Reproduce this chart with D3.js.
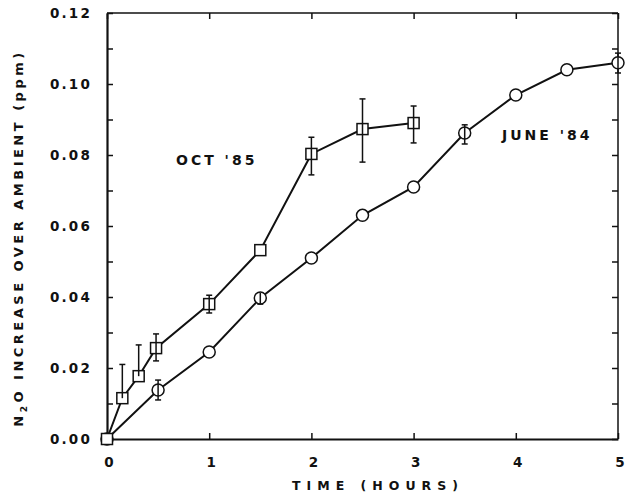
<!DOCTYPE html>
<html lang="en">
<head>
<meta charset="UTF-8">
<title>N2O increase over ambient</title>
<style>
    body { margin: 0; background: #fff; }
    svg { display: block; }
    .lbl { font-family: "DejaVu Sans", sans-serif; font-weight: bold; fill: #111; }
    .frame { fill: none; stroke: #111; }
    .series { fill: none; stroke: #111; stroke-width: 2; }
    .err { stroke: #111; stroke-width: 1.5; }
    .mark { fill: #fff; stroke: #111; stroke-width: 1.5; }
</style>
</head>
<body>
<svg id="chart" width="631" height="500"></svg>
<script src="https://d3js.org/d3.v7.min.js"></script>
<script>
    // Oct '85 (squares)
    const octHours = [0, 0.15, 0.31, 0.48, 1, 1.5, 2, 2.5, 3];
    const octN2O   = [0, 0.0115, 0.0177, 0.0256, 0.038, 0.0532, 0.0803, 0.0873, 0.089];
    const octHi    = [null, 0.021, 0.0265, 0.0296, 0.0405, null, 0.085, 0.0958, 0.0938];
    const octLo    = [null, null, null, 0.022, 0.0355, null, 0.0744, 0.078, 0.0834];

    // June '84 (circles)
    const juneHours = [0, 0.5, 1, 1.5, 2, 2.5, 3, 3.5, 4, 4.5, 5];
    const juneN2O   = [0, 0.0138, 0.0245, 0.0397, 0.051, 0.063, 0.071, 0.0862, 0.0969, 0.104, 0.106];
    const juneHi    = [null, 0.0166, null, 0.0412, null, null, null, 0.0885, null, null, 0.1087];
    const juneLo    = [null, 0.011, null, 0.038, null, null, null, 0.0831, null, null, 0.1031];

    const xTicks = [0, 1, 2, 3, 4, 5];
    const yLabelTicks = [0, 0.02, 0.04, 0.06, 0.08, 0.10, 0.12];
    const yMinorTicks = d3.range(0, 0.1201, 0.01);

    const svg = d3.select("#chart");
    const x = d3.scaleLinear().domain([0, 5]).range([107, 618]);
    const y = d3.scaleLinear().domain([0, 0.12]).range([439, 13]);

    // frame
    svg.append("line").attr("class", "frame").attr("stroke-width", 1.5)
        .attr("x1", x(0)).attr("x2", x(5)).attr("y1", y(0.12)).attr("y2", y(0.12));
    svg.append("line").attr("class", "frame").attr("stroke-width", 1.5)
        .attr("x1", x(5)).attr("x2", x(5)).attr("y1", y(0.12)).attr("y2", y(0));

    // inward ticks on all sides
    const axBottom = svg.append("g").attr("transform", `translate(0,${y(0)})`)
        .call(d3.axisBottom(x).tickValues(xTicks).tickSizeInner(-6).tickSizeOuter(0).tickFormat(""));
    const axTop = svg.append("g").attr("transform", `translate(0,${y(0.12)})`)
        .call(d3.axisTop(x).tickValues(xTicks).tickSizeInner(-6).tickSizeOuter(0).tickFormat(""));
    const axLeft = svg.append("g").attr("transform", `translate(${x(0)},0)`)
        .call(d3.axisLeft(y).tickValues(yMinorTicks).tickSizeInner(-6).tickSizeOuter(0).tickFormat(""));
    const axRight = svg.append("g").attr("transform", `translate(${x(5)},0)`)
        .call(d3.axisRight(y).tickValues(yMinorTicks).tickSizeInner(-6).tickSizeOuter(0).tickFormat(""));
    [axBottom, axLeft].forEach(g => g.select(".domain").attr("stroke", "#111").attr("stroke-width", 2.2));
    [axTop, axRight].forEach(g => g.select(".domain").remove());
    svg.selectAll(".tick line").attr("stroke", "#111").attr("stroke-width", 1.5);

    // tick labels
    svg.append("g").selectAll("text").data(xTicks).join("text")
        .attr("class", "lbl").attr("font-size", 13.5)
        .attr("x", d => x(d) + 2).attr("y", 467)
        .attr("text-anchor", "middle").text(d => d);
    svg.append("g").selectAll("text").data(yLabelTicks).join("text")
        .attr("class", "lbl").attr("font-size", 13.5).attr("letter-spacing", 2.2)
        .attr("x", 92).attr("y", d => y(d) + 5)
        .attr("text-anchor", "end").text(d => d3.format(".2f")(d));

    // axis titles
    svg.append("text").attr("class", "lbl").attr("font-size", 12.5).attr("letter-spacing", 6)
        .attr("x", 378).attr("y", 490).attr("text-anchor", "middle").text("TIME (HOURS)");
    const yt = svg.append("text").attr("class", "lbl").attr("font-size", 13).attr("letter-spacing", 3.5)
        .attr("transform", "translate(23,238) rotate(-90)").attr("text-anchor", "middle");
    yt.append("tspan").text("N");
    yt.append("tspan").attr("font-size", 9).attr("dy", 4).text("2");
    yt.append("tspan").attr("dy", -4).text("O INCREASE OVER AMBIENT (ppm)");

    // series labels
    svg.append("text").attr("class", "lbl").attr("font-size", 14).attr("letter-spacing", 3)
        .attr("x", 176).attr("y", 165).text("OCT '85");
    svg.append("text").attr("class", "lbl").attr("font-size", 14).attr("letter-spacing", 3)
        .attr("x", 502).attr("y", 140).text("JUNE '84");

    function drawSeries(xs, ys, hi, lo, shape) {
        const pts = xs.map((h, i) => ({ h, v: ys[i], hi: hi[i], lo: lo[i] }));
        const g = svg.append("g");
        g.append("path").attr("class", "series")
            .attr("d", d3.line().x(d => x(d.h)).y(d => y(d.v))(pts));
        const e = pts.filter(d => d.hi !== null || d.lo !== null);
        e.forEach(d => {
            if (d.hi !== null) g.append("line").attr("class", "err")
                .attr("x1", x(d.h) - 3).attr("x2", x(d.h) + 3).attr("y1", y(d.hi)).attr("y2", y(d.hi));
            if (d.lo !== null) g.append("line").attr("class", "err")
                .attr("x1", x(d.h) - 3).attr("x2", x(d.h) + 3).attr("y1", y(d.lo)).attr("y2", y(d.lo));
        });
        if (shape === "square") {
            g.selectAll("rect").data(pts).join("rect").attr("class", "mark")
                .attr("x", d => x(d.h) - 5.5).attr("y", d => y(d.v) - 5.5)
                .attr("width", 11).attr("height", 11);
        } else {
            g.selectAll("circle").data(pts).join("circle").attr("class", "mark")
                .attr("cx", d => x(d.h)).attr("cy", d => y(d.v)).attr("r", 6);
        }
        // error bar stems drawn over the marker, as in the original
        e.forEach(d => {
            const hiV = d.hi !== null ? d.hi : d.v;
            const loV = d.lo !== null ? d.lo : d.v;
            g.append("line").attr("class", "err")
                .attr("x1", x(d.h)).attr("x2", x(d.h)).attr("y1", y(hiV)).attr("y2", y(loV));
        });
    }

    drawSeries(juneHours, juneN2O, juneHi, juneLo, "circle");
    drawSeries(octHours, octN2O, octHi, octLo, "square");
</script>
</body>
</html>
